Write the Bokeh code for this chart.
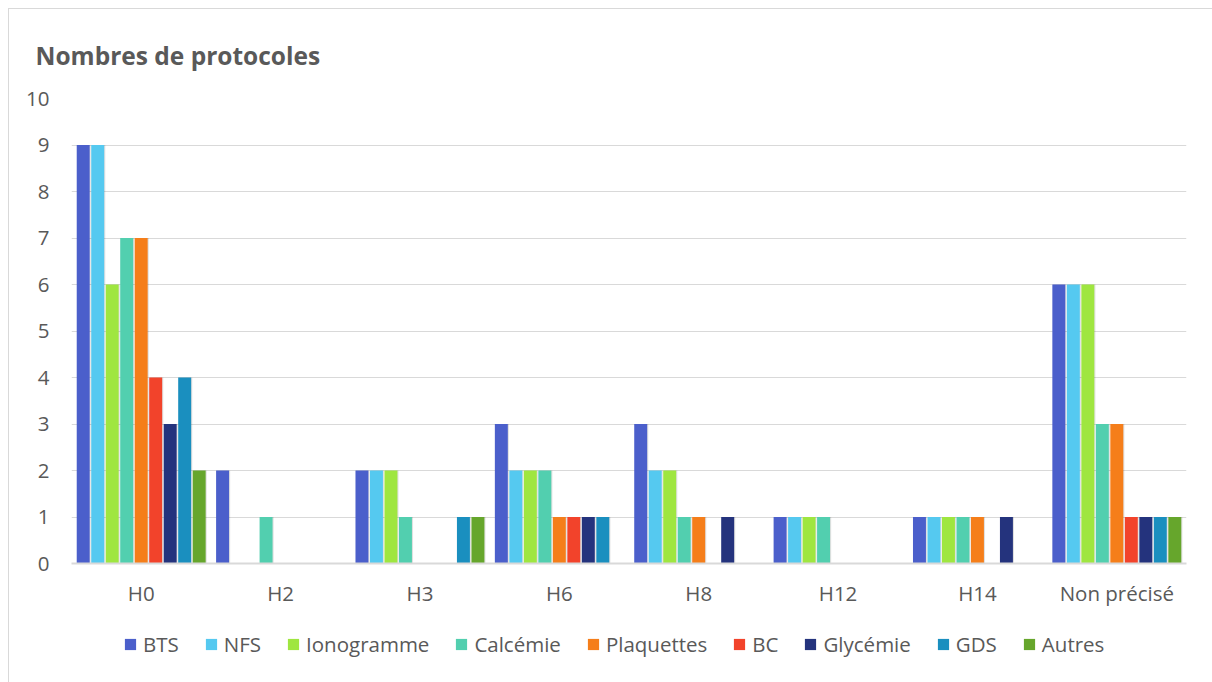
from bokeh.plotting import figure
from bokeh.layouts import column
from bokeh.models import ColumnDataSource, Range1d, FactorRange, Legend, LegendItem, SingleIntervalTicker
from bokeh.transform import dodge
from bokeh.embed import file_html
from bokeh.resources import INLINE

categories = ["H0", "H2", "H3", "H6", "H8", "H12", "H14", "Non précisé"]
series_names = ["BTS", "NFS", "Ionogramme", "Calcémie", "Plaquettes", "BC", "Glycémie", "GDS", "Autres"]
BTS = [9, 2, 2, 3, 3, 1, 1, 6]
NFS = [9, 0, 2, 2, 2, 1, 1, 6]
Ionogramme = [6, 0, 2, 2, 2, 1, 1, 6]
Calcemie = [7, 1, 1, 2, 1, 1, 1, 3]
Plaquettes = [7, 0, 0, 1, 1, 0, 1, 3]
BC = [4, 0, 0, 1, 0, 0, 0, 1]
Glycemie = [3, 0, 0, 1, 1, 0, 1, 1]
GDS = [4, 0, 1, 1, 0, 0, 0, 1]
Autres = [2, 0, 1, 0, 0, 0, 0, 1]
colors = ["#4B5FCB", "#55C9F0", "#9FE640", "#52CFAF", "#F57E1A", "#F2432B", "#24337D", "#1A8FBF", "#66A62C"]

values = [BTS, NFS, Ionogramme, Calcemie, Plaquettes, BC, Glycemie, GDS, Autres]
keys = ["s%d" % i for i in range(len(series_names))]
data = {"cat": categories}
for k, v in zip(keys, values):
    data[k] = v
source = ColumnDataSource(data)

FONT = "Open Sans"
TXT = "#595959"
FS = "20.5px"

p = figure(x_range=FactorRange(*categories, range_padding=0), y_range=Range1d(0, 10),
           width=1204, height=612, output_backend="svg", toolbar_location=None,
           min_border_left=62, min_border_right=27, min_border_top=89, min_border_bottom=58)

p.title.text = "Nombres de protocoles"
p.title.text_font = FONT
p.title.text_font_size = "24.5px"
p.title.text_font_style = "bold"
p.title.text_color = TXT
p.title.align = "left"
p.title.offset = -36
p.title.standoff = 53

step = 0.104
width = 0.093
for i, (k, c) in enumerate(zip(keys, colors)):
    off = (i - 4) * step
    p.vbar(x=dodge("cat", off + 0.006, range=p.x_range), top=k, width=width + 0.004, source=source,
           fill_color="#000000", fill_alpha=0.12, line_color=None)
    p.vbar(x=dodge("cat", off, range=p.x_range), top=k, width=width, source=source,
           fill_color=c, line_color=None)

p.outline_line_color = None
p.xgrid.grid_line_color = None
p.ygrid.grid_line_color = "#d9d9d9"
p.ygrid.grid_line_width = 1
p.yaxis.ticker = SingleIntervalTicker(interval=1)
p.yaxis.axis_line_color = None
p.yaxis.major_tick_line_color = None
p.yaxis.minor_tick_line_color = None
p.yaxis.major_label_standoff = 16
p.xaxis.axis_line_color = "#d9d9d9"
p.xaxis.axis_line_width = 2
p.xaxis.major_tick_line_color = None
p.xaxis.minor_tick_line_color = None
p.xaxis.major_label_standoff = 9
for ax in (p.xaxis, p.yaxis):
    ax.major_label_text_font = FONT
    ax.major_label_text_font_size = FS
    ax.major_label_text_color = TXT

# legend strip
pl = figure(width=1204, height=62, output_backend="svg", toolbar_location=None,
            x_range=Range1d(0, 1), y_range=Range1d(0, 1),
            x_axis_location=None, y_axis_location=None,
            min_border=0, min_border_left=0, min_border_right=0, min_border_top=0, min_border_bottom=0)
pl.grid.visible = False
pl.outline_line_color = None
items = []
for name, c in zip(series_names, colors):
    r = pl.vbar(x=[-5], top=[-5], width=0.1, fill_color=c, line_color=None)
    items.append(LegendItem(label=name, renderers=[r]))
legend = Legend(items=items, orientation="horizontal", location=(52, 25),
                glyph_width=14, glyph_height=14, label_standoff=6, spacing=25,
                label_text_font=FONT, label_text_font_size=FS, label_text_color=TXT,
                border_line_color=None, background_fill_alpha=0, margin=0, padding=4)
pl.add_layout(legend, "center")

layout = column(p, pl, spacing=0, margin=(8, 0, 0, 8),
                styles={"border-left": "1px solid #d9d9d9", "border-top": "1px solid #d9d9d9"})

open("out.html", "w").write(file_html(layout, INLINE))
